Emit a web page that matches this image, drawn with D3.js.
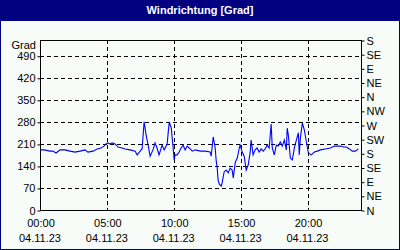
<!DOCTYPE html>
<html><head><meta charset="utf-8">
<script src="https://cdn.jsdelivr.net/npm/d3@7"></script>
<style>
html,body{margin:0;padding:0;background:#fff;}
svg{display:block;}
text{font-family:"Liberation Sans","DejaVu Sans",sans-serif;font-size:11px;fill:#000;}
</style></head><body>
<svg id="c" width="400" height="250"></svg>
<script>
const title = "Windrichtung [Grad]";
const yUnit = "Grad";
const times = ["00:00","00:18","00:45","00:58","01:12","01:30","01:52","02:15","02:37","03:00","03:22","03:35","03:58","04:16","04:34","04:47","04:56","05:05","05:14","05:23","05:37","05:50","06:08","06:22","06:44","07:07","07:16","07:29","07:38","07:47","07:56","08:05","08:14","08:27","08:36","08:45","08:54","09:08","09:17","09:26","09:31","09:35","09:40","09:49","09:58","10:02","10:06","10:15","10:24","10:33","10:42","10:51","11:00","11:09","11:23","11:36","11:59","12:21","12:43","12:48","12:57","13:06","13:10","13:15","13:19","13:24","13:33","13:37","13:46","13:55","14:04","14:13","14:22","14:27","14:36","14:45","14:54","14:58","15:07","15:16","15:25","15:34","15:43","15:47","15:56","16:05","16:14","16:23","16:32","16:41","16:50","16:59","17:08","17:17","17:22","17:31","17:40","17:49","17:58","18:07","18:16","18:25","18:29","18:34","18:43","18:52","19:01","19:10","19:19","19:23","19:28","19:37","19:46","19:55","20:04","20:17","20:31","20:44","20:58","21:20","21:43","22:01","22:28","22:41","22:54","23:08","23:21","23:35","23:48"];
const degrees = [191,191,187,187,181,191,191,187,184,187,191,184,187,194,197,203,210,213,210,213,210,200,197,194,191,187,175,187,194,280,238,206,171,191,213,197,175,206,191,203,213,245,280,260,191,159,175,175,184,197,206,191,203,197,187,191,187,187,184,171,232,197,159,133,95,83,76,86,121,127,118,133,127,102,152,165,197,206,184,171,127,143,184,222,175,191,197,184,194,187,194,206,197,273,197,175,206,203,216,203,222,191,260,238,165,159,197,222,245,175,229,276,254,216,181,175,184,187,191,194,197,203,203,200,200,194,187,187,194];
const leftTicks = [0,70,140,210,280,350,420,490];
const dirTicks = [0,45,90,135,180,225,270,315,360,405,450,495,540];
const dirLabels = ["N","NE","E","SE","S","SW","W","NW","N","NE","E","SE","S"];
const xTickHours = [0,5,10,15,20];
const xTimeLabels = ["00:00","05:00","10:00","15:00","20:00"];
const xDateLabels = ["04.11.23","04.11.23","04.11.23","04.11.23","04.11.23"];

const svg = d3.select("#c");
const W = 400, H = 250;
const navy = "#000080";
const L = 40, R = 361, T = 40, B = 210;

svg.append("rect").attr("x",0).attr("y",0).attr("width",W).attr("height",H).attr("fill",navy);
svg.append("rect").attr("x",1).attr("y",21).attr("width",W-2).attr("height",H-22).attr("fill","#f8fcf8");
svg.append("text").attr("x",W/2).attr("y",14).attr("text-anchor","middle")
  .style("fill","#fff").style("font-weight","bold").style("font-size","11px").text(title);

const toH = s => { const [h,m] = s.split(":").map(Number); return h + m/60; };
const data = times.map((t,i)=>({h:toH(t), v:degrees[i]}));

const x = d3.scaleLinear().domain([0,24]).range([L,R]);
const y = d3.scaleLinear().domain([0,540]).range([B,T]);

const grid = svg.append("g").attr("stroke","#000").attr("stroke-dasharray","4,3").attr("shape-rendering","crispEdges");
leftTicks.filter(v=>v>0).forEach(v=>{
  grid.append("line").attr("x1",L).attr("x2",R).attr("y1",Math.round(y(v))+0.5).attr("y2",Math.round(y(v))+0.5);
});
xTickHours.filter(h=>h>0).forEach(h=>{
  grid.append("line").attr("y1",T).attr("y2",B).attr("x1",Math.round(x(h))+0.5).attr("x2",Math.round(x(h))+0.5);
});

svg.append("rect").attr("x",L+0.5).attr("y",T+0.5).attr("width",R-L).attr("height",B-T)
  .attr("fill","none").attr("stroke","#000").attr("shape-rendering","crispEdges");

const la = svg.append("g").attr("transform",`translate(${L+0.5},0.5)`)
  .call(d3.axisLeft(y).tickValues(leftTicks).tickSize(3).tickPadding(2).tickFormat(d3.format("d")));
la.select(".domain").remove();
la.selectAll("text").style("font-size","11px").style("font-family",null);

const ra = svg.append("g").attr("transform",`translate(${R+0.5},0.5)`)
  .call(d3.axisRight(y).tickValues(dirTicks).tickSize(3).tickPadding(2).tickFormat((d,i)=>dirLabels[i]));
ra.select(".domain").remove();
ra.selectAll("text").style("font-size","11px").style("font-family",null);

svg.append("text").attr("x",36).attr("y",49).attr("text-anchor","end").text(yUnit);

const xa = svg.append("g").attr("transform",`translate(0.5,${B+0.5})`)
  .call(d3.axisBottom(x).tickValues(xTickHours).tickSize(0).tickPadding(9).tickFormat((d,i)=>xTimeLabels[i]));
xa.select(".domain").remove();
xa.selectAll("text").style("font-size","11px").style("font-family",null);
xTickHours.forEach((h,i)=>{
  svg.append("text").attr("x",x(h)).attr("y",242).attr("text-anchor","middle").text(xDateLabels[i]);
});

svg.append("path").datum(data).attr("fill","none").attr("stroke","#0000ff").attr("stroke-width",1.1)
  .attr("d", d3.line().x(d=>x(d.h)).y(d=>y(d.v)));
</script></body></html>
